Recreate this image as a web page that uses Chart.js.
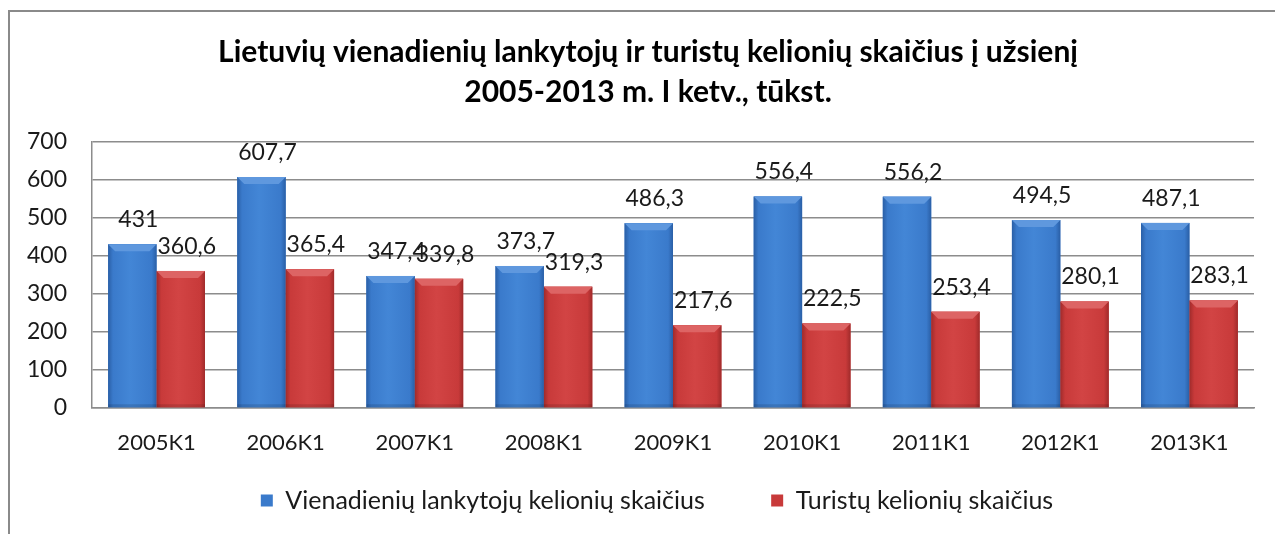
<!DOCTYPE html>
<html>
<head>
<meta charset="utf-8">
<script src="https://cdn.jsdelivr.net/npm/chart.js@4/dist/chart.umd.min.js"></script>
<style>
  html, body { margin: 0; padding: 0; background: #fff; overflow: hidden; }
  #wrap { position: relative; width: 1275px; height: 534px; }
  #frame { position: absolute; left: 8px; top: 10px; width: 1300px; height: 600px; border: 2px solid #8a8a8a; box-sizing: border-box; }
  canvas { position: absolute; left: 0; top: 0; }
</style>
</head>
<body>
<div id="wrap">
  <div id="frame"></div>
  <canvas id="myChart" width="1275" height="534"></canvas>
</div>
<script>
// data
var categories = ["2005K1", "2006K1", "2007K1", "2008K1", "2009K1", "2010K1", "2011K1", "2012K1", "2013K1"];
var vienadieniai = [431, 607.7, 347.4, 373.7, 486.3, 556.4, 556.2, 494.5, 487.1];
var turistai = [360.6, 365.4, 339.8, 319.3, 217.6, 222.5, 253.4, 280.1, 283.1];
var yTicks = [0, 100, 200, 300, 400, 500, 600, 700];

var FONT = "Lato, 'Open Sans', sans-serif";

var palette = [
  { base: "#3a7acb", edge: "#2a5fa6", mid: "#4386d6", top: "#5f98de" },
  { base: "#c83a3a", edge: "#a02b2b", mid: "#d24444", top: "#dd6464" }
];

// bevel look for the bars, painted over the library's bar rectangles
var bevelBars = {
  id: "bevelBars",
  afterDatasetsDraw: function (chart) {
    var ctx = chart.ctx;
    chart.data.datasets.forEach(function (ds, di) {
      var p = palette[di];
      chart.getDatasetMeta(di).data.forEach(function (bar) {
        var l = bar.x - bar.width / 2, r = bar.x + bar.width / 2;
        var t = bar.y, b = bar.base;
        var g = ctx.createLinearGradient(l, 0, r, 0);
        g.addColorStop(0, p.edge);
        g.addColorStop(0.1, p.base);
        g.addColorStop(0.45, p.mid);
        g.addColorStop(0.9, p.base);
        g.addColorStop(1, p.edge);
        ctx.save();
        ctx.fillStyle = g;
        ctx.fillRect(l, t, r - l, b - t);
        var bv = 7;
        ctx.fillStyle = p.top;
        ctx.beginPath();
        ctx.moveTo(l, t);
        ctx.lineTo(r, t);
        ctx.lineTo(r - bv, t + bv);
        ctx.lineTo(l + bv, t + bv);
        ctx.closePath();
        ctx.fill();
        ctx.fillStyle = "rgba(0,0,0,0.12)";
        ctx.fillRect(l, b - 3, r - l, 3);
        ctx.restore();
      });
    });
  }
};

// value labels above bars, with decimal comma
var valueLabels = {
  id: "valueLabels",
  afterDatasetsDraw: function (chart) {
    var ctx = chart.ctx;
    ctx.save();
    ctx.font = "23px " + FONT;
    ctx.fillStyle = "#1a1a1a";
    ctx.textAlign = "center";
    ctx.textBaseline = "bottom";
    chart.data.datasets.forEach(function (ds, di) {
      chart.getDatasetMeta(di).data.forEach(function (bar, i) {
        var txt = String(ds.data[i]).replace(".", ",");
        ctx.fillText(txt, bar.x + 6, bar.y - 13);
      });
    });
    ctx.restore();
  }
};

// title and legend sit a bit right of the canvas centre in the original
var nudge = {
  id: "nudge",
  afterLayout: function (chart) {
    chart.titleBlock.left += 21;
    chart.titleBlock.right += 21;
    chart.legend.left += 30;
    chart.legend.right += 30;
  }
};

var ctx = document.getElementById("myChart").getContext("2d");
var chart = new Chart(ctx, {
  type: "bar",
  data: {
    labels: categories,
    datasets: [
      {
        label: "Vienadienių lankytojų kelionių skaičius      ",
        data: vienadieniai,
        backgroundColor: "#3a7acb",
        borderWidth: 0
      },
      {
        label: "Turistų kelionių skaičius",
        data: turistai,
        backgroundColor: "#c83a3a",
        borderWidth: 0
      }
    ]
  },
  options: {
    responsive: false,
    animation: false,
    layout: { padding: { left: 0, right: 21, top: 14, bottom: 11 } },
    datasets: {
      bar: { categoryPercentage: 0.75, barPercentage: 1 }
    },
    plugins: {
      title: {
        display: true,
        text: ["Lietuvių vienadienių lankytojų ir turistų kelionių skaičius į užsienį", "2005-2013 m. I ketv., tūkst."],
        color: "#000",
        font: { family: FONT, size: 30, weight: "bold", lineHeight: 1.333 },
        padding: { top: 18, bottom: 30 }
      },
      legend: {
        position: "bottom",
        labels: {
          color: "#1a1a1a",
          font: { family: FONT, size: 25 },
          boxWidth: 12,
          boxHeight: 12,
          padding: 28
        }
      },
      tooltip: { enabled: false }
    },
    scales: {
      x: {
        grid: { display: false, drawTicks: false },
        border: { display: true, color: "#8c8c8c", width: 1.5 },
        ticks: { color: "#1a1a1a", font: { family: FONT, size: 22 }, padding: 22 },
        afterFit: function (s) { s.height = 52; }
      },
      y: {
        min: 0,
        max: 700,
        afterBuildTicks: function (s) {
          s.ticks = yTicks.map(function (v) { return { value: v }; });
        },
        grid: { color: "#8c8c8c", lineWidth: 1.5, drawTicks: false },
        border: { display: true, color: "#8c8c8c", width: 1.5 },
        ticks: { color: "#1a1a1a", font: { family: FONT, size: 23 }, padding: 25 },
        afterFit: function (s) { s.width = 92; }
      }
    }
  },
  plugins: [bevelBars, valueLabels, nudge]
});
</script>
</body>
</html>
